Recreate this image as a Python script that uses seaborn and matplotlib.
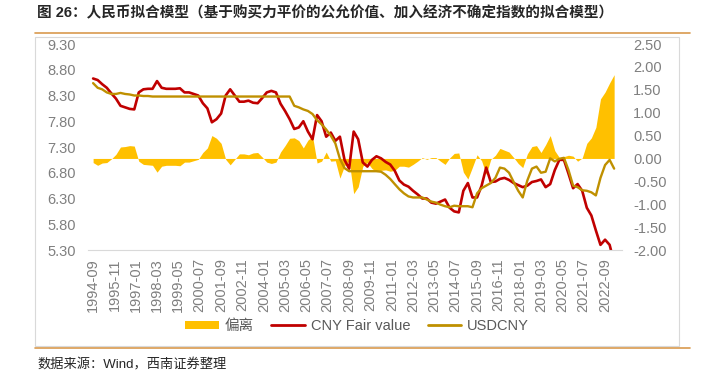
import pandas as pd
import numpy as np
import matplotlib.pyplot as plt
from matplotlib.lines import Line2D
from matplotlib.patches import Patch, Rectangle
from matplotlib.ticker import FormatStrFormatter
import seaborn as sns

# quarterly readings, 1994-09 .. 2023-03
dates = pd.date_range('1994-09-01', periods=115, freq='3MS')

fair_value = [
    8.63, 8.60, 8.52, 8.45, 8.34, 8.24, 8.10, 8.07, 8.04, 8.03,
    8.36, 8.42, 8.43, 8.43, 8.58, 8.45, 8.43, 8.43, 8.43, 8.44,
    8.36, 8.36, 8.33, 8.30, 8.15, 8.05, 7.78, 7.84, 7.95, 8.30,
    8.42, 8.30, 8.18, 8.18, 8.20, 8.16, 8.15, 8.25, 8.36, 8.39,
    8.36, 8.14, 8.00, 7.84, 7.65, 7.68, 7.80, 7.60, 7.45, 7.92,
    7.80, 7.50, 7.58, 7.42, 7.50, 7.05, 6.88, 7.60, 7.45, 7.00,
    6.92, 7.05, 7.12, 7.08, 7.01, 6.96, 6.84, 6.65, 6.57, 6.53,
    6.45, 6.38, 6.30, 6.30, 6.22, 6.20, 6.24, 6.28, 6.12, 6.05,
    6.03, 6.45, 6.60, 6.32, 6.32, 6.55, 6.90, 6.62, 6.63, 6.68,
    6.70, 6.66, 6.60, 6.56, 6.52, 6.55, 6.62, 6.64, 6.67, 6.52,
    6.58, 6.85, 7.05, 7.05, 6.78, 6.50, 6.58, 6.45, 6.12, 5.97,
    5.68, 5.40, 5.50, 5.40, 5.05,
]

usdcny = [
    8.54, 8.45, 8.42, 8.36, 8.33, 8.33, 8.35, 8.33, 8.32, 8.30,
    8.30, 8.29, 8.29, 8.28, 8.28, 8.28, 8.28, 8.28, 8.28, 8.28,
    8.28, 8.28, 8.28, 8.28, 8.28, 8.28, 8.28, 8.28, 8.28, 8.28,
    8.28, 8.28, 8.28, 8.28, 8.28, 8.28, 8.28, 8.28, 8.28, 8.28,
    8.28, 8.28, 8.28, 8.28, 8.10, 8.07, 8.03, 8.00, 7.94, 7.82,
    7.74, 7.64, 7.52, 7.37, 7.07, 6.89, 6.83, 6.83, 6.83, 6.83,
    6.83, 6.83, 6.83, 6.82, 6.76, 6.68, 6.58, 6.48, 6.40, 6.34,
    6.32, 6.32, 6.32, 6.28, 6.24, 6.22, 6.18, 6.15, 6.13, 6.16,
    6.15, 6.15, 6.15, 6.13, 6.40, 6.50, 6.55, 6.60, 6.70, 6.90,
    6.88, 6.80, 6.62, 6.45, 6.32, 6.65, 6.88, 6.92, 6.80, 6.82,
    7.08, 7.02, 7.07, 7.09, 6.85, 6.55, 6.52, 6.46, 6.45, 6.42,
    6.36, 6.70, 6.95, 7.05, 6.88,
]

deviation = [
    -0.09, -0.15, -0.10, -0.09, -0.01, 0.09, 0.25, 0.26, 0.28, 0.27,
    -0.06, -0.13, -0.14, -0.15, -0.30, -0.17, -0.15, -0.15, -0.15, -0.16,
    -0.08, -0.08, -0.05, -0.02, 0.13, 0.23, 0.50, 0.44, 0.33, -0.02,
    -0.14, -0.02, 0.10, 0.10, 0.08, 0.12, 0.13, 0.03, -0.08, -0.11,
    -0.08, 0.14, 0.28, 0.44, 0.45, 0.39, 0.23, 0.40, 0.49, -0.10,
    -0.06, 0.14, -0.06, -0.05, -0.43, -0.16, -0.05, -0.77, -0.62, -0.17,
    -0.09, -0.22, -0.29, -0.26, -0.25, -0.28, -0.26, -0.17, -0.17, -0.19,
    -0.13, -0.06, 0.02, -0.02, 0.02, 0.02, -0.06, -0.13, 0.01, 0.11,
    0.12, -0.30, -0.45, -0.19, 0.08, -0.05, -0.35, -0.02, 0.07, 0.22,
    0.18, 0.14, 0.02, -0.11, -0.20, 0.10, 0.26, 0.28, 0.13, 0.30,
    0.50, 0.17, 0.02, 0.04, 0.07, 0.05, -0.06, 0.01, 0.33, 0.45,
    0.68, 1.30, 1.45, 1.65, 1.83,
]

tick_dates = pd.date_range('1994-09-01', periods=25, freq='14MS')
tick_labels = [d.strftime('%Y-%m') for d in tick_dates]

title = '图 26：人民币拟合模型（基于购买力平价的公允价值、加入经济不确定指数的拟合模型）'
source = '数据来源：Wind，西南证券整理'
legend_labels = ['偏离', 'CNY Fair value', 'USDCNY']

df = pd.DataFrame({'date': dates, 'fair': fair_value, 'usd': usdcny, 'dev': deviation})

sns.set_style('white')
plt.rcParams['font.family'] = ['Liberation Sans', 'Noto Sans CJK SC', 'DejaVu Sans']
plt.rcParams['axes.unicode_minus'] = False

W, H = 707, 373
fig = plt.figure(figsize=(W / 100, H / 100), dpi=100)
ax = fig.add_axes([88 / W, 1 - 250 / H, (622 - 88) / W, (250 - 44) / H])
ax2 = ax.twinx()

# area for deviation on the right axis, below the lines
ax2.fill_between(df['date'], 0, df['dev'], color='#FFC000', lw=0)
ax.set_zorder(ax2.get_zorder() + 1)
ax.patch.set_visible(False)

sns.lineplot(data=df, x='date', y='fair', ax=ax, color='#C00000', lw=1.9)
sns.lineplot(data=df, x='date', y='usd', ax=ax, color='#BF9000', lw=1.7)

ax.set_xlim(pd.Timestamp('1994-05-22'), pd.Timestamp('2023-08-05'))
ax.set_ylim(5.30, 9.30)
ax.set_yticks(np.arange(5.30, 9.31, 0.5))
ax2.set_ylim(-2.0, 2.5)
ax2.set_yticks(np.arange(-2.0, 2.51, 0.5))
ax.yaxis.set_major_formatter(FormatStrFormatter('%.2f'))
ax2.yaxis.set_major_formatter(FormatStrFormatter('%.2f'))

ax.set_xticks(tick_dates)
ax.set_xticklabels(tick_labels)
ax.set_xlabel('')
ax.set_ylabel('')

grey = '#7F7F7F'
ax.tick_params(axis='x', length=4, width=0.8, color='#D9D9D9', rotation=90,
               labelsize=10.5, labelcolor=grey, pad=2)
ax.tick_params(axis='y', length=0, labelsize=10.5, labelcolor=grey, pad=9)
ax2.tick_params(axis='y', length=0, labelsize=10.5, labelcolor=grey, pad=8)

for a in (ax, ax2):
    for s in ('top', 'left', 'right'):
        a.spines[s].set_visible(False)
ax2.spines['bottom'].set_visible(False)
ax.spines['bottom'].set_color('#D9D9D9')
ax.spines['bottom'].set_linewidth(0.8)

handles = [Patch(facecolor='#FFC000', edgecolor='none'),
           Line2D([], [], color='#C00000', lw=2),
           Line2D([], [], color='#BF9000', lw=2)]
fig.legend(handles, legend_labels, loc='center', bbox_to_anchor=(0.505, 1 - 326 / H),
           ncol=3, frameon=False, fontsize=10.5, handlelength=2.3, handleheight=0.5,
           handletextpad=0.4, columnspacing=1.2, labelcolor='#595959')

# frame and decorative rules
fig.add_artist(Rectangle((35 / W, 1 - 346 / H), (679 - 35) / W, (346 - 37) / H,
                         transform=fig.transFigure, fill=False, ec='#D9D9D9', lw=0.8))
fig.add_artist(Line2D([35 / W, 690 / W], [1 - 33 / H] * 2, color='#D99A4E', lw=1.2))
fig.add_artist(Line2D([35 / W, 690 / W], [1 - 348 / H] * 2, color='#D99A4E', lw=1.2))

fig.text(37 / W, 1 - 13 / H, title, fontsize=10.5, fontweight='bold', ha='left', va='center')
fig.text(37 / W, 1 - 365 / H, source, fontsize=9.5, ha='left', va='center')

fig.savefig('out.png', dpi=100)
